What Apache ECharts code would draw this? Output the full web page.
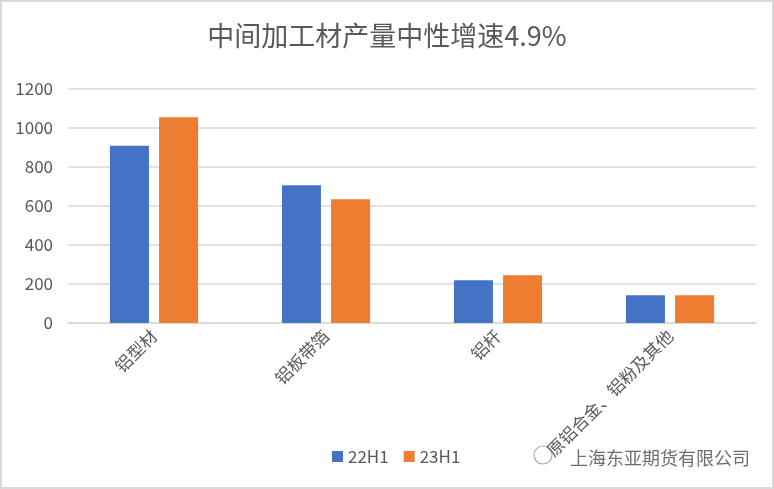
<!DOCTYPE html>
<html>
<head>
<meta charset="utf-8">
<script src="https://cdn.jsdelivr.net/npm/echarts@6/dist/echarts.min.js"></script>
<style>
  html, body { margin: 0; padding: 0; background: #fff; }
  #main { width: 774px; height: 489px; }
</style>
</head>
<body>
<div id="main"></div>
<script>
var categories = ['铝型材', '铝板带箔', '铝杆', '原铝合金、铝粉及其他'];
var data22H1 = [909, 706, 219, 142];
var data23H1 = [1055, 634, 245, 142];
var seriesNames = ['22H1', '23H1'];

var myChart = echarts.init(document.getElementById('main'));
var font = '"Noto Sans CJK SC", "Microsoft YaHei", sans-serif';
var option = {
    animation: false,
    backgroundColor: '#fff',
    color: ['#4472c4', '#ed7d31'],
    title: {
        text: '中间加工材产量中性增速4.9%',
        left: 'center',
        top: 17,
        textStyle: { fontSize: 27, fontWeight: 'normal', color: '#595959', fontFamily: font }
    },
    legend: {
        bottom: 19,
        left: 327,
        itemWidth: 11,
        itemHeight: 11,
        itemGap: 15,
        icon: 'rect',
        textStyle: { fontSize: 17, color: '#595959', fontFamily: font }
    },
    grid: { left: 68, right: 18, top: 89, bottom: 166 },
    xAxis: {
        type: 'category',
        data: categories,
        axisLine: { lineStyle: { color: '#d9d9d9', width: 1.5 } },
        axisTick: { show: false },
        axisLabel: { rotate: 45, fontSize: 17, color: '#595959', fontFamily: font, margin: 10, interval: 0 }
    },
    yAxis: {
        type: 'value',
        min: 0,
        max: 1200,
        interval: 200,
        axisLine: { show: false },
        axisTick: { show: false },
        axisLabel: {
            fontSize: 17, color: '#595959', fontFamily: font, margin: 15,
            formatter: function (v) { return String(v); }
        },
        splitLine: { lineStyle: { color: '#d9d9d9', width: 1.5 } }
    },
    graphic: [
        {
            type: 'rect',
            shape: { x: 1, y: 1, width: 772, height: 487 },
            style: { fill: 'none', stroke: '#d9d9d9', lineWidth: 2 },
            silent: true
        },
        {
            type: 'circle',
            shape: { cx: 543, cy: 455, r: 9 },
            style: { fill: 'none', stroke: '#aaa', lineWidth: 1.2 },
            silent: true
        },
        {
            type: 'text',
            right: 24,
            bottom: 22,
            style: { text: '上海东亚期货有限公司', fontSize: 18, fill: '#555', fontFamily: font, opacity: 0.85 },
            silent: true
        }
    ],
    series: [
        { name: seriesNames[0], type: 'bar', data: data22H1, barWidth: 39, barGap: '26%' },
        { name: seriesNames[1], type: 'bar', data: data23H1, barWidth: 39, barGap: '26%' }
    ]
};
myChart.setOption(option);
</script>
</body>
</html>
